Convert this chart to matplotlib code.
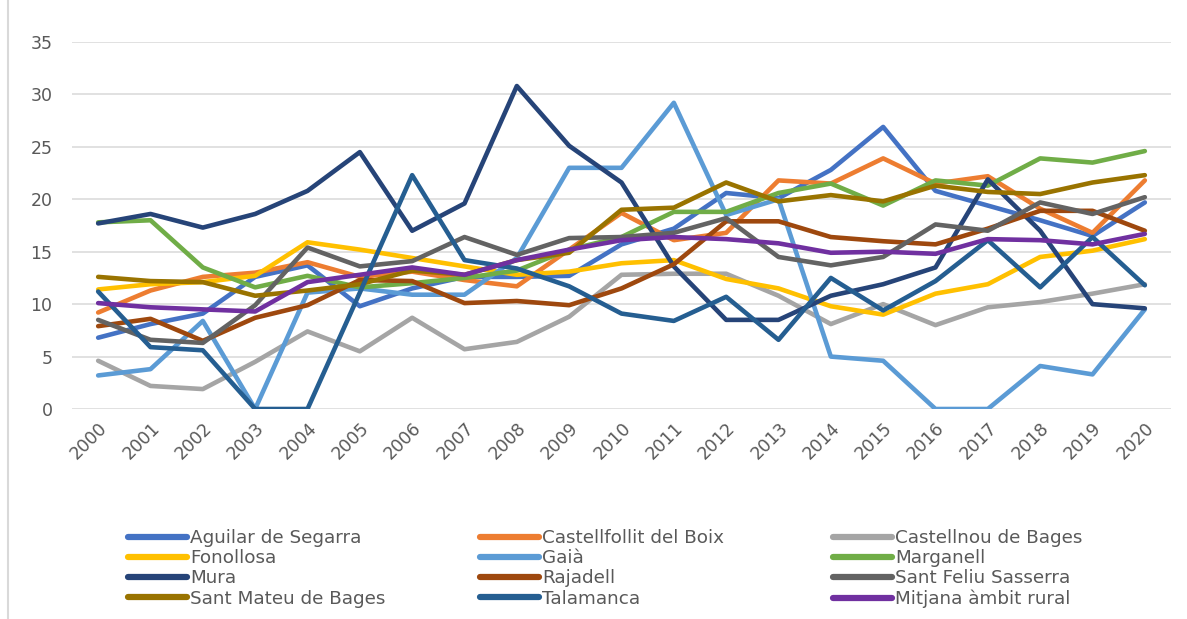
import numpy as np
import matplotlib
matplotlib.use("Agg")
import matplotlib.pyplot as plt
from matplotlib.lines import Line2D

years = [str(y) for y in range(2000, 2021)]

aguilar      = [6.8, 8.1, 9.1, 12.6, 13.7, 9.8, 11.5, 12.6, 12.6, 12.7, 15.7, 17.2, 20.6, 20.1, 22.8, 26.9, 20.8, 19.4, 18.0, 16.5, 19.7]
castellfollit = [9.2, 11.3, 12.6, 13.0, 14.0, 12.6, 13.1, 12.3, 11.7, 15.2, 18.7, 16.1, 16.8, 21.8, 21.5, 23.9, 21.5, 22.2, 19.1, 16.8, 21.8]
castellnou   = [4.6, 2.2, 1.9, 4.5, 7.4, 5.5, 8.7, 5.7, 6.4, 8.8, 12.8, 12.9, 12.9, 10.8, 8.1, 10.0, 8.0, 9.7, 10.2, 11.0, 11.9]
fonollosa    = [11.4, 11.9, 12.1, 12.7, 15.9, 15.2, 14.4, 13.6, 12.8, 13.1, 13.9, 14.2, 12.4, 11.5, 9.8, 9.0, 11.0, 11.9, 14.5, 15.1, 16.2]
gaia         = [3.2, 3.8, 8.4, 0.0, 11.1, 11.5, 10.9, 10.9, 14.4, 23.0, 23.0, 29.2, 18.5, 20.0, 5.0, 4.6, 0.0, 0.0, 4.1, 3.3, 9.5]
marganell    = [17.8, 18.0, 13.5, 11.6, 12.7, 11.6, 12.0, 12.5, 13.2, 15.2, 16.4, 18.8, 18.8, 20.6, 21.5, 19.4, 21.8, 21.3, 23.9, 23.5, 24.6]
mura         = [17.7, 18.6, 17.3, 18.6, 20.8, 24.5, 17.0, 19.6, 30.8, 25.1, 21.6, 13.6, 8.5, 8.5, 10.8, 11.9, 13.5, 21.9, 17.0, 10.0, 9.6]
rajadell     = [7.9, 8.6, 6.5, 8.7, 9.9, 12.3, 12.2, 10.1, 10.3, 9.9, 11.5, 13.8, 17.9, 17.9, 16.4, 16.0, 15.7, 17.2, 18.9, 18.9, 17.0]
sant_feliu   = [8.5, 6.6, 6.3, 9.9, 15.4, 13.6, 14.1, 16.4, 14.7, 16.3, 16.4, 16.8, 18.2, 14.5, 13.7, 14.5, 17.6, 17.0, 19.7, 18.6, 20.2]
sant_mateu   = [12.6, 12.2, 12.1, 10.8, 11.3, 11.9, 13.2, 12.8, 14.2, 14.9, 19.0, 19.2, 21.6, 19.8, 20.4, 19.8, 21.3, 20.7, 20.5, 21.6, 22.3]
talamanca    = [11.2, 5.9, 5.6, 0.0, 0.0, 11.1, 22.3, 14.2, 13.4, 11.7, 9.1, 8.4, 10.7, 6.6, 12.5, 9.4, 12.2, 16.1, 11.6, 16.4, 11.8]
mitjana      = [10.1, 9.7, 9.5, 9.3, 12.1, 12.8, 13.5, 12.8, 14.2, 15.2, 16.1, 16.4, 16.2, 15.8, 14.9, 15.0, 14.8, 16.2, 16.1, 15.7, 16.7]

names = ["Aguilar de Segarra", "Castellfollit del Boix", "Castellnou de Bages",
         "Fonollosa", "Gaià", "Marganell",
         "Mura", "Rajadell", "Sant Feliu Sasserra",
         "Sant Mateu de Bages", "Talamanca", "Mitjana àmbit rural"]
series = [aguilar, castellfollit, castellnou, fonollosa, gaia, marganell,
          mura, rajadell, sant_feliu, sant_mateu, talamanca, mitjana]
colors = ["#4472C4", "#ED7D31", "#A5A5A5", "#FFC000", "#5B9BD5", "#70AD47",
          "#264478", "#9E480E", "#636363", "#997300", "#255E91", "#7030A0"]

TEXT = "#595959"
plt.rcParams["font.family"] = "DejaVu Sans"

W, H = 1187, 619
fig = plt.figure(figsize=(W / 100, H / 100), dpi=100)
ax = fig.add_axes([72 / W, 1 - 409 / H, (1171 - 72) / W, (409 - 42) / H])

x = np.arange(len(years))
handles = []
for name, vals, col in zip(names, series, colors):
    h, = ax.plot(x, vals, color=col, lw=3.3, label=name,
                 solid_capstyle="round", solid_joinstyle="round")
    handles.append(h)

ax.set_xlim(-0.5, len(years) - 0.5)
ax.set_ylim(0, 35)
ax.set_yticks(range(0, 36, 5))
ax.yaxis.grid(True, color="#D9D9D9", lw=1.1)
ax.set_axisbelow(True)
for s in ax.spines.values():
    s.set_visible(False)

ax.set_xticks(x)
ax.set_xticklabels(years, rotation=45, ha="right", va="top", rotation_mode="anchor")
ax.tick_params(axis="both", length=0, colors=TEXT, labelsize=12.5)
ax.tick_params(axis="y", pad=14)
ax.tick_params(axis="x", pad=7)

# one legend per column so the columns sit at an even pitch, like Excel
col_x = [128, 480, 833]
for c, x0 in enumerate(col_x):
    idx = list(range(c, len(handles), 3))
    leg = fig.legend([handles[i] for i in idx], [names[i] for i in idx],
                     loc="upper left", bbox_to_anchor=(x0 / W, 1 - 529 / H),
                     frameon=False, fontsize=13.2, handlelength=3.2, handletextpad=0.2,
                     labelspacing=0.12, borderpad=0, borderaxespad=0)
    for t in leg.get_texts():
        t.set_color(TEXT)
    for l in leg.get_lines():
        l.set_linewidth(4.5)

fig.add_artist(Line2D([8 / W, 8 / W], [0, 1], color="#D9D9D9", lw=1.5))

fig.savefig("out.png", dpi=100)
